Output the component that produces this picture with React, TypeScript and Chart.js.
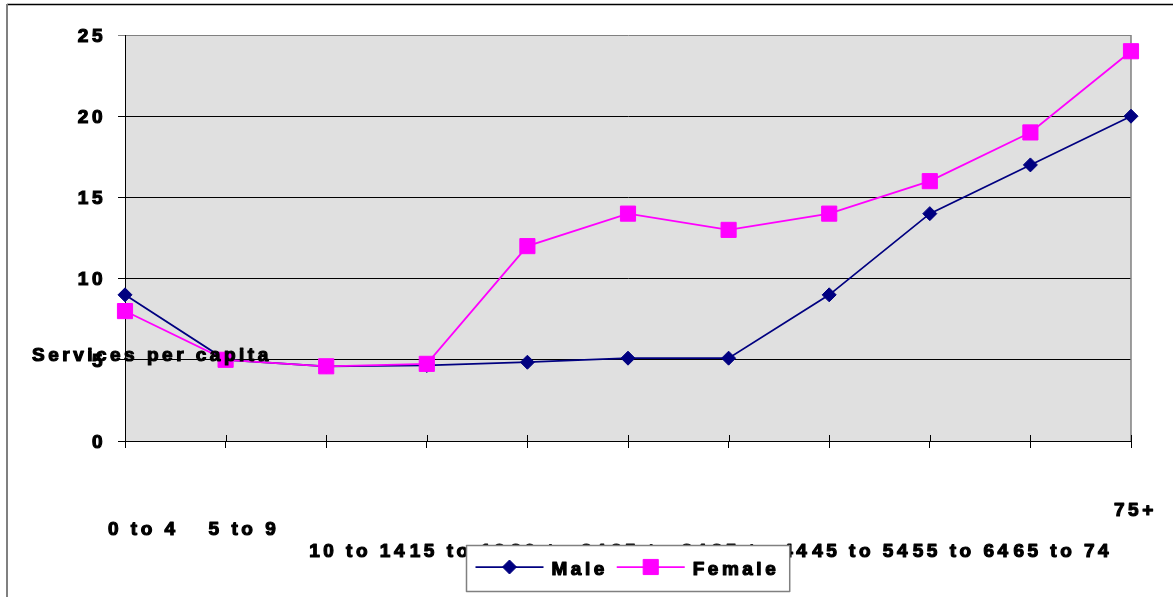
import React, { useEffect, useRef } from 'react';
import { Chart, registerables } from 'chart.js';

Chart.register(...registerables);

// Age groups along the horizontal axis
const ageGroups = [
  '0 to 4',
  '5 to 9',
  '10 to 14',
  '15 to 19',
  '20 to 24',
  '25 to 34',
  '35 to 44',
  '45 to 54',
  '55 to 64',
  '65 to 74',
  '75+',
];

// Services per capita by age group
const maleServices = [9, 5, 4.6, 4.65, 4.85, 5.1, 5.1, 9, 14, 17, 20];
const femaleServices = [8, 5, 4.6, 4.75, 12, 14, 13, 14, 16, 19, 24];

// Value axis ticks
const valueTicks = [0, 5, 10, 15, 20, 25];

const axisTitle = 'Services per capita';

const FONT = '"Liberation Sans", Arial, Helvetica, sans-serif';
const FONT_SIZE = 19;
const TEXT_FONT = `bold ${FONT_SIZE}px ${FONT}`;
const SPACING = '3.5px';
const TEXT_STROKE = 1.2;
const CANVAS_W = 1173;
const CANVAS_H = 597;

const setSpacing = (ctx: any, v: string) => {
  if ('letterSpacing' in ctx) ctx.letterSpacing = v;
};

// heavy text: fill plus a thin outline in the same colour
const heavyText = (ctx: CanvasRenderingContext2D, text: string, x: number, y: number) => {
  ctx.fillText(text, x, y);
  ctx.strokeText(text, x, y);
};

const drawMarker = (ctx: CanvasRenderingContext2D, style: string, r: number, x: number, y: number) => {
  ctx.beginPath();
  if (style === 'rectRot') {
    ctx.moveTo(x - r, y);
    ctx.lineTo(x, y - r);
    ctx.lineTo(x + r, y);
    ctx.lineTo(x, y + r);
    ctx.closePath();
  } else {
    const s = Math.SQRT1_2 * r;
    ctx.rect(x - s, y - s, 2 * s, 2 * s);
  }
  ctx.fill();
  ctx.stroke();
};

const chartDecor = {
  id: 'chartDecor',
  beforeDraw(chart: any) {
    const { ctx, chartArea: a } = chart;
    ctx.save();
    ctx.fillStyle = '#ffffff';
    ctx.fillRect(0, 0, chart.width, chart.height);
    ctx.fillStyle = '#E0E0E0';
    ctx.fillRect(a.left, a.top, a.right - a.left, a.bottom - a.top);
    ctx.restore();
    setSpacing(ctx, SPACING);
  },
  beforeDatasetsDraw(chart: any) {
    const { ctx, chartArea: a } = chart;
    const xs = chart.scales.x;
    ctx.save();
    // right edge of the plot area
    ctx.strokeStyle = '#808080';
    ctx.lineWidth = 1.5;
    ctx.beginPath();
    ctx.moveTo(a.right, a.top);
    ctx.lineTo(a.right, a.bottom);
    ctx.stroke();
    // tick marks crossing into the plot area
    ctx.strokeStyle = '#000000';
    ctx.lineWidth = 1;
    xs.ticks.forEach((_t: any, i: number) => {
      const x = Math.round(xs.getPixelForTick(i)) + 0.5;
      ctx.beginPath();
      ctx.moveTo(x, a.bottom - 6);
      ctx.lineTo(x, a.bottom);
      ctx.stroke();
    });
    ctx.restore();
  },
  afterDraw(chart: any) {
    const { ctx, chartArea: a } = chart;
    const xs = chart.scales.x;
    ctx.save();
    ctx.font = TEXT_FONT;
    ctx.fillStyle = '#000000';
    ctx.strokeStyle = '#000000';
    ctx.lineWidth = TEXT_STROKE;
    ctx.lineJoin = 'round';
    ctx.textAlign = 'left';
    ctx.textBaseline = 'alphabetic';

    // category labels, dropped in proportion to their length
    const labels: string[] = chart.data.labels;
    labels.forEach((label, i) => {
      setSpacing(ctx, '0px');
      const w = ctx.measureText(label).width;
      setSpacing(ctx, SPACING);
      const x = xs.getPixelForTick(i) - 17;
      const y = xs.top + 41 + 1.063 * w;
      heavyText(ctx, label, x, y);
    });

    // value axis title
    heavyText(ctx, axisTitle, 32, 361);

    // legend
    const items = chart.data.datasets.map((ds: any) => ({
      text: ds.label,
      color: ds.borderColor,
      style: ds.pointStyle,
      radius: ds.pointRadius,
      width: ds.borderWidth,
    }));
    const sample = 68;
    const gapText = 8;
    const gapItem = 9;
    const padL = 9;
    const padR = 10.5;
    const widths = items.map((it: any) => ctx.measureText(it.text).width);
    const total =
      padL + padR + widths.reduce((s: number, w: number) => s + sample + gapText + w, 0) + gapItem * (items.length - 1);
    const left = Math.round((a.left + a.right) / 2 - total / 2) + 0.5;
    const top = 545.5;
    const height = 46;
    ctx.fillStyle = '#ffffff';
    ctx.fillRect(left, top, total, height);
    ctx.strokeStyle = '#808080';
    ctx.lineWidth = 1.5;
    ctx.strokeRect(left, top, total, height);

    let x = left + padL;
    const my = top + 21.5;
    items.forEach((it: any, i: number) => {
      ctx.strokeStyle = it.color;
      ctx.fillStyle = it.color;
      ctx.lineWidth = it.width;
      ctx.beginPath();
      ctx.moveTo(x, my);
      ctx.lineTo(x + sample, my);
      ctx.stroke();
      ctx.lineWidth = 1;
      drawMarker(ctx, it.style, it.radius, x + sample / 2, my);
      ctx.fillStyle = '#000000';
      ctx.strokeStyle = '#000000';
      ctx.lineWidth = TEXT_STROKE;
      heavyText(ctx, it.text, x + sample + gapText, my + 8);
      x += sample + gapText + widths[i] + gapItem;
    });

    // outer frame
    ctx.strokeStyle = '#000000';
    ctx.lineWidth = 1.5;
    ctx.beginPath();
    ctx.moveTo(7, 4.5);
    ctx.lineTo(chart.width, 4.5);
    ctx.stroke();
    ctx.strokeStyle = '#808080';
    ctx.lineWidth = 2;
    ctx.beginPath();
    ctx.moveTo(7, 4);
    ctx.lineTo(7, chart.height);
    ctx.stroke();
    ctx.restore();
  },
};

export default function App() {
  const canvasRef = useRef<HTMLCanvasElement | null>(null);

  useEffect(() => {
    if (!canvasRef.current) return;
    const chart = new Chart(canvasRef.current, {
      type: 'line',
      data: {
        labels: ageGroups,
        datasets: [
          {
            label: 'Male',
            data: maleServices,
            borderColor: '#000080',
            backgroundColor: '#000080',
            borderWidth: 1.75,
            pointStyle: 'rectRot',
            pointRadius: 7,
            pointHoverRadius: 7,
            pointBorderWidth: 1,
            pointBackgroundColor: '#000080',
            pointBorderColor: '#000080',
            tension: 0,
            fill: false,
            clip: false,
            order: 1,
          },
          {
            label: 'Female',
            data: femaleServices,
            borderColor: '#FF00FF',
            backgroundColor: '#FF00FF',
            borderWidth: 1.75,
            pointStyle: 'rect',
            pointRadius: 10.7,
            pointHoverRadius: 10.7,
            pointBorderWidth: 1,
            pointBackgroundColor: '#FF00FF',
            pointBorderColor: '#FF00FF',
            tension: 0,
            fill: false,
            clip: false,
            order: 0,
          },
        ],
      },
      options: {
        animation: false,
        responsive: false,
        devicePixelRatio: 1,
        events: [],
        layout: { padding: { left: 0, top: 35, right: 42, bottom: 0 } },
        plugins: {
          legend: { display: false },
          tooltip: { enabled: false },
          title: { display: false },
        },
        scales: {
          x: {
            type: 'category',
            offset: false,
            grid: {
              display: true,
              drawOnChartArea: false,
              drawTicks: true,
              tickLength: 7,
              color: '#000000',
              lineWidth: 1,
            },
            border: { display: true, color: '#000000', width: 1 },
            ticks: { display: false, autoSkip: false, maxRotation: 0 },
            afterFit: (s: any) => {
              s.height = 156;
            },
          },
          y: {
            type: 'linear',
            min: 0,
            max: 25,
            afterBuildTicks: (s: any) => {
              s.ticks = valueTicks.map((v) => ({ value: v }));
            },
            ticks: {
              padding: 12,
              labelOffset: 1.5,
              color: '#000000',
              textStrokeColor: '#000000',
              textStrokeWidth: TEXT_STROKE,
              font: { family: FONT, size: FONT_SIZE, weight: 'bold' },
            },
            grid: {
              color: (c: any) => (c.tick && c.tick.value === 25 ? '#808080' : '#000000'),
              lineWidth: 1,
              tickLength: 7,
            },
            border: { display: true, color: '#000000', width: 1 },
            afterFit: (s: any) => {
              s.width = 125;
            },
          },
        },
      },
      plugins: [chartDecor],
    });
    return () => chart.destroy();
  }, []);

  return (
    <div
      style={{
        position: 'fixed',
        left: 0,
        top: 0,
        width: CANVAS_W,
        height: CANVAS_H,
        background: '#ffffff',
      }}
    >
      <canvas ref={canvasRef} width={CANVAS_W} height={CANVAS_H} style={{ display: 'block' }} />
    </div>
  );
}
